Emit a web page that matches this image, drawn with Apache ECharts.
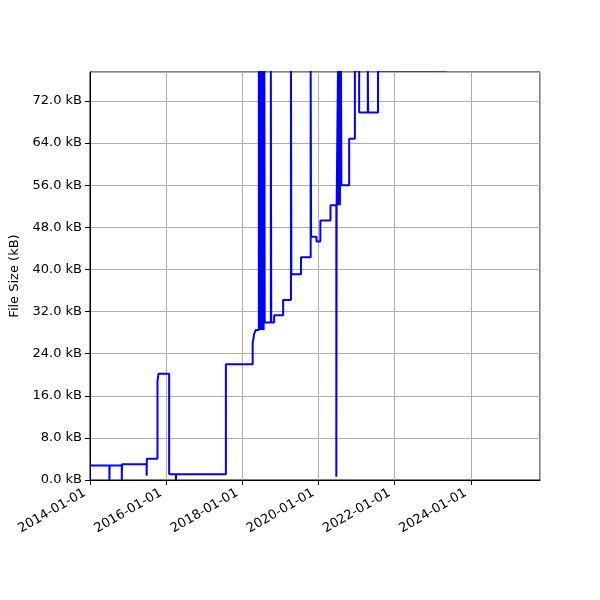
<!DOCTYPE html>
<html>
<head>
<meta charset="utf-8">
<script src="https://cdn.jsdelivr.net/npm/echarts@6/dist/echarts.min.js"></script>
<style>
  html, body { margin: 0; padding: 0; background: #fff; }
  #chart { width: 600px; height: 600px; }
</style>
</head>
<body>
<div id="chart"></div>
<script>
// file size history (kB), step changes
var dates = [
  '2014-01-01', '2014-07-06', '2014-07-08', '2014-11-02', '2014-11-04',
  '2015-06-28', '2015-06-30', '2015-10-10', '2015-10-20', '2016-01-30',
  '2016-04-04', '2016-04-06', '2017-07-27', '2018-04-10', '2018-04-25',
  '2018-05-10', '2018-06-08', '2018-06-11', '2018-06-23', '2018-06-26',
  '2018-07-07', '2018-07-10', '2018-07-21', '2018-07-24', '2018-07-31',
  '2018-08-03', '2018-10-01', '2018-10-05', '2018-11-02', '2019-01-27',
  '2019-04-12', '2019-04-16', '2019-07-17', '2019-10-18', '2019-10-22',
  '2019-12-13', '2020-01-19', '2020-04-25', '2020-06-20', '2020-06-23',
  '2020-07-06', '2020-07-09', '2020-07-21', '2020-07-24', '2020-08-04',
  '2020-08-07', '2020-10-21', '2020-12-15', '2021-01-25', '2021-04-18',
  '2021-04-21', '2021-07-25', '2023-05-15'
];
var sizes = [
  2.75, 0, 2.75, 0, 3.0,
  0.8, 4.05, 18.8, 20.2, 1.1,
  0, 1.1, 22.0, 26.0, 27.8,
  28.5, 77.8, 28.5, 77.8, 28.5,
  77.8, 28.5, 77.8, 28.5, 77.8,
  29.9, 77.8, 29.9, 31.3, 34.2,
  77.8, 39.1, 42.3, 77.8, 46.2,
  45.3, 49.3, 52.2, 0.6, 52.2,
  77.8, 52.2, 77.8, 52.2, 77.8,
  56.0, 64.8, 77.8, 69.8, 77.8,
  69.8, 77.8, 77.8
];
var yTicks = [0, 8, 16, 24, 32, 40, 48, 56, 64, 72];
var yMax = 77.5;

var DAY = 86400000;
var xMin = Date.UTC(2014, 0, 1);
var xMax = Date.UTC(2025, 9, 25);
var twoYears = 730.5 * DAY;

var points = [];
for (var i = 0; i < dates.length; i++) {
    points.push([Date.parse(dates[i] + 'T00:00:00Z'), sizes[i]]);
}

var myChart = echarts.init(document.getElementById('chart'));
var option = {
    animation: false,
    textStyle: { fontFamily: 'DejaVu Sans' },
    grid: {
        left: 90, right: 60, top: 72, bottom: 120,
        show: true, borderColor: '#000', borderWidth: 1
    },
    xAxis: {
        type: 'value',
        min: xMin,
        max: xMax,
        interval: twoYears,
        axisLine: { show: true, onZero: false, lineStyle: { color: '#000', width: 1 } },
        axisTick: { show: true, length: 5, lineStyle: { color: '#000' } },
        splitLine: { show: true, lineStyle: { color: '#b0b0b0', width: 1 } },
        axisLabel: {
            rotate: 30,
            margin: 9,
            padding: [0, 6, 0, 0],
            fontSize: 13,
            color: '#000',
            showMaxLabel: false,
            formatter: function (v) {
                return new Date(v + 5 * DAY).getUTCFullYear() + '-01-01';
            }
        }
    },
    yAxis: {
        type: 'value',
        min: 0,
        max: yMax,
        interval: 8,
        name: 'File Size (kB)',
        nameLocation: 'middle',
        nameGap: 64,
        nameTextStyle: { fontSize: 13, color: '#000' },
        axisLine: { show: true, lineStyle: { color: '#000', width: 1 } },
        axisTick: { show: true, length: 5, lineStyle: { color: '#000' } },
        splitLine: { show: true, lineStyle: { color: '#b0b0b0', width: 1 } },
        axisLabel: {
            margin: 8,
            fontSize: 13,
            color: '#000',
            showMaxLabel: false,
            formatter: function (v) {
                return yTicks.indexOf(v) >= 0 ? v.toFixed(1) + ' kB' : '';
            }
        }
    },
    series: [{
        type: 'line',
        step: 'end',
        symbol: 'none',
        clip: true,
        lineStyle: { color: '#0000ff', width: 2 },
        data: points
    }]
};
myChart.setOption(option);
</script>
</body>
</html>
